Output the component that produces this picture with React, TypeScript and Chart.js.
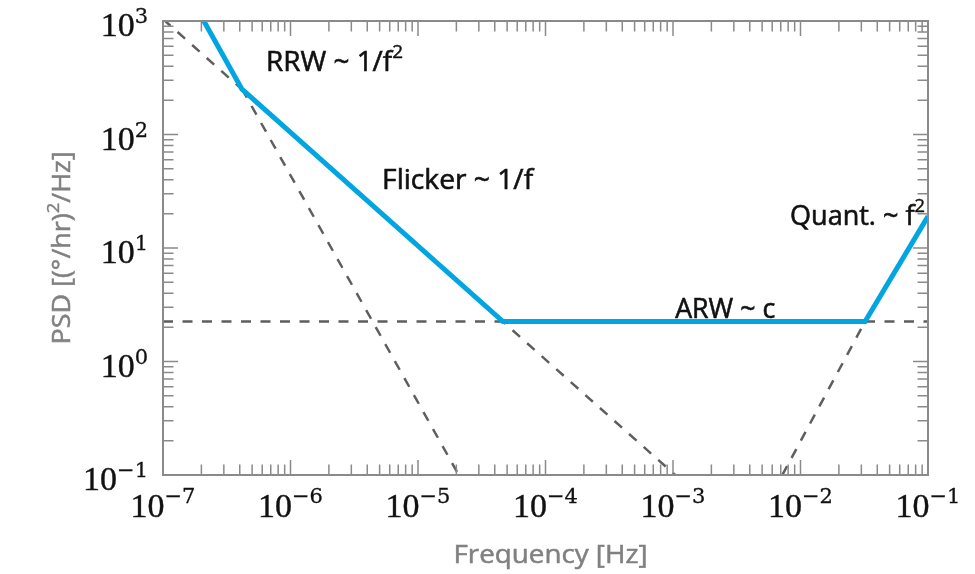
import React, { useEffect, useRef } from 'react';
import { Chart, registerables } from 'chart.js';

Chart.register(...registerables);

// ---- data ----
const psdFreq = [2.09e-7, 4.16e-7, 4.64e-5, 3.21e-2, 1e-1];
const psdValue = [1000, 251, 2.25, 2.25, 19];

const rrwFreq = [2.09e-7, 2.09e-5];
const rrwValue = [1000, 0.1];
const flickerFreq = [1e-7, 1.04e-3];
const flickerValue = [1040, 0.1];
const arwFreq = [1e-7, 1e-1];
const arwValue = [2.25, 2.25];
const quantFreq = [7.2e-3, 3.21e-2];
const quantValue = [0.1, 2.25];

const xTickExps = [-7, -6, -5, -4, -3, -2, -1];
const yTickExps = [-1, 0, 1, 2, 3];
const minorMults = [2, 3, 4, 5, 6, 7, 8, 9];

const annoTexts = ['RRW ~ 1/f', 'Flicker ~ 1/f', 'ARW ~ c', 'Quant. ~ f'];
const annoSups = ['2', '', '', '2'];
const annoFreq = [6.43e-7, 5.23e-6, 1.04e-3, 8.28e-3];
const annoValue = [362, 33.1, 2.42, 15.9];
const annoWidth = [137, 151, 100, 135];

const xTitle = 'Frequency [Hz]';
const yTitleParts = ['PSD [(°/hr)', '2', '/Hz]'];

const BLUE = '#00a5e1';
const DASH = '#5e5e5e';
const AXIS = '#8a8a8a';
const TITLE = '#808080';
const SERIF = '"Liberation Serif", serif';
const SERIF2 = '"DejaVu Serif", serif';
const SANS = '"Open Sans", "Noto Sans", sans-serif';

type Part = { text: string; font: string; dy: number; bold?: number };

function drawParts(ctx: CanvasRenderingContext2D, parts: Part[], x: number, y: number, align: 'left' | 'center' | 'right', targetWidth?: number) {
  ctx.save();
  let total = 0;
  const widths = parts.map((p) => {
    ctx.font = p.font;
    const w = ctx.measureText(p.text).width;
    total += w;
    return w;
  });
  const s = targetWidth ? targetWidth / total : 1;
  const drawn = total * s;
  let start = x;
  if (align === 'center') start = x - drawn / 2;
  if (align === 'right') start = x - drawn;
  ctx.translate(start, y);
  ctx.scale(s, 1);
  ctx.textAlign = 'left';
  ctx.textBaseline = 'alphabetic';
  ctx.strokeStyle = ctx.fillStyle as string;
  let cx = 0;
  parts.forEach((p, i) => {
    ctx.font = p.font;
    ctx.fillText(p.text, cx, p.dy);
    if (p.bold) {
      ctx.lineWidth = p.bold;
      ctx.strokeText(p.text, cx, p.dy);
    }
    cx += widths[i];
  });
  ctx.restore();
}

function expStr(e: number) {
  return e < 0 ? '\u2212' + Math.abs(e) : String(e);
}

const decorPlugin = {
  id: 'decor',
  afterDatasetsDraw(chart: any) {
    const ctx: CanvasRenderingContext2D = chart.ctx;
    const { left, right, top, bottom } = chart.chartArea;
    const xs = chart.scales.x;
    const ys = chart.scales.y;
    ctx.save();
    // ticks
    ctx.strokeStyle = AXIS;
    ctx.lineWidth = 1.5;
    const majorLen = 15;
    const minorLen = 10.5;
    ctx.beginPath();
    xTickExps.forEach((e, i) => {
      const px = xs.getPixelForValue(Math.pow(10, e));
      ctx.moveTo(px, bottom); ctx.lineTo(px, bottom - majorLen);
      ctx.moveTo(px, top); ctx.lineTo(px, top + majorLen);
      if (i < xTickExps.length - 1) {
        minorMults.forEach((m) => {
          const mx = xs.getPixelForValue(m * Math.pow(10, e));
          ctx.moveTo(mx, bottom); ctx.lineTo(mx, bottom - minorLen);
          ctx.moveTo(mx, top); ctx.lineTo(mx, top + minorLen);
        });
      }
    });
    yTickExps.forEach((e, i) => {
      const py = ys.getPixelForValue(Math.pow(10, e));
      ctx.moveTo(left, py); ctx.lineTo(left + majorLen, py);
      ctx.moveTo(right, py); ctx.lineTo(right - majorLen, py);
      if (i < yTickExps.length - 1) {
        minorMults.forEach((m) => {
          const my = ys.getPixelForValue(m * Math.pow(10, e));
          ctx.moveTo(left, my); ctx.lineTo(left + minorLen, my);
          ctx.moveTo(right, my); ctx.lineTo(right - minorLen, my);
        });
      }
    });
    ctx.stroke();
    // box
    ctx.lineWidth = 2;
    ctx.strokeRect(left, top, right - left, bottom - top);

    // tick labels
    ctx.fillStyle = '#111';
    const big = `34px ${SERIF}`;
    const small = `21px ${SERIF2}`;
    yTickExps.forEach((e) => {
      const py = ys.getPixelForValue(Math.pow(10, e));
      drawParts(ctx, [
        { text: '10', font: big, dy: 0, bold: 0.4 },
        { text: expStr(e), font: small, dy: -13, bold: 0.3 },
      ], left - 15, py + 15, 'right');
    });
    xTickExps.forEach((e) => {
      const px = xs.getPixelForValue(Math.pow(10, e));
      drawParts(ctx, [
        { text: '10', font: big, dy: 0, bold: 0.4 },
        { text: expStr(e), font: small, dy: -14, bold: 0.3 },
      ], px, bottom + 42, 'center');
    });

    // annotations
    const af = `500 28px ${SANS}`;
    const asf = `500 19px ${SANS}`;
    annoTexts.forEach((t, i) => {
      const px = xs.getPixelForValue(annoFreq[i]);
      const py = ys.getPixelForValue(annoValue[i]);
      const parts: Part[] = [{ text: t, font: af, dy: 0, bold: 0.6 }];
      if (annoSups[i]) parts.push({ text: annoSups[i], font: asf, dy: -13, bold: 0.4 });
      ctx.fillStyle = '#111';
      drawParts(ctx, parts, px, py, 'left', annoWidth[i]);
    });

    // axis titles
    ctx.fillStyle = TITLE;
    drawParts(ctx, [{ text: xTitle, font: `25px ${SANS}`, dy: 0, bold: 0.5 }], (left + right) / 2 + 5, bottom + 88, 'center', 194);
    ctx.save();
    ctx.translate(70, (top + bottom) / 2);
    ctx.rotate(-Math.PI / 2);
    drawParts(ctx, [
      { text: yTitleParts[0], font: `25px ${SANS}`, dy: 0, bold: 0.5 },
      { text: yTitleParts[1], font: `17px ${SANS}`, dy: -11, bold: 0.4 },
      { text: yTitleParts[2], font: `25px ${SANS}`, dy: 0, bold: 0.5 },
    ], 0, 0, 'center', 193);
    ctx.restore();
    ctx.restore();
  },
};

function pts(fx: number[], vy: number[]) {
  return fx.map((f, i) => ({ x: f, y: vy[i] }));
}

export default function App() {
  const ref = useRef<HTMLCanvasElement | null>(null);
  useEffect(() => {
    document.body.style.margin = '0';
    const canvas = ref.current;
    if (!canvas) return;
    const dashed = (label: string, data: any) => ({
      label,
      data,
      borderColor: DASH,
      borderWidth: 2.5,
      borderDash: [10, 9.5],
      pointRadius: 0,
      fill: false,
      order: 2,
    });
    const chart = new Chart(canvas, {
      type: 'line',
      data: {
        datasets: [
          {
            label: 'PSD',
            data: pts(psdFreq, psdValue),
            borderColor: BLUE,
            borderWidth: 5,
            pointRadius: 0,
            fill: false,
            order: 0,
          },
          dashed('RRW', pts(rrwFreq, rrwValue)),
          dashed('Flicker', pts(flickerFreq, flickerValue)),
          dashed('ARW', pts(arwFreq, arwValue)),
          dashed('Quant', pts(quantFreq, quantValue)),
        ],
      },
      options: {
        responsive: false,
        animation: false,
        events: [],
        layout: { padding: { left: 163, top: 21, right: 47, bottom: 99 } },
        plugins: { legend: { display: false }, tooltip: { enabled: false } },
        scales: {
          x: { type: 'logarithmic', min: 1e-7, max: 1e-1, display: false },
          y: { type: 'logarithmic', min: 0.1, max: 1000, display: false },
        },
      } as any,
      plugins: [decorPlugin],
    });
    return () => chart.destroy();
  }, []);
  return (
    <div style={{ position: 'absolute', left: 0, top: 0, width: 975, height: 574, background: '#fff' }}>
      <canvas ref={ref} width={975} height={574} style={{ display: 'block' }} />
    </div>
  );
}
